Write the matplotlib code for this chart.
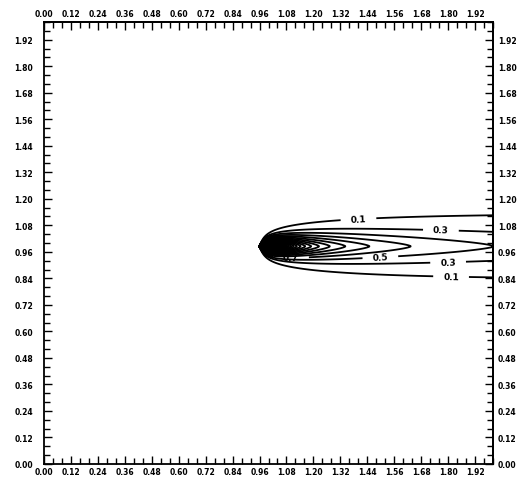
import numpy as np
import matplotlib
matplotlib.use("Agg")
import matplotlib.pyplot as plt

plt.rcParams['font.family'] = ['DejaVu Sans']
plt.rcParams['font.weight'] = 'bold'

# plume parameters
src_x = 0.96          # where the plume starts
src_y = 0.985         # centre line
peak_amp = 0.505      # centre value at unit distance
peak_decay = 0.73     # centre value falls as s**-peak_decay
near_amp = 0.012      # extra build-up close to the source (s**-2)
spread_amp = 0.102    # lateral width at unit distance
spread_pow = 0.4      # width grows as s**spread_pow
nose_len = 0.015      # the plume narrows to a point over this distance
shape_pow = 1.5       # cross-section exp(-(|dy|/w)**shape_pow)

levels = np.round(np.arange(0.1, 30.0, 0.2), 1)
# labelled levels and where their labels sit
label_spots = {
    0.1: [(1.40, 1.122), (1.813, 0.837)],
    0.3: [(1.768, 1.059), (1.80, 0.914)],
    0.5: [(1.497, 0.959)],
    0.7: [(1.10, 0.93)],
}

tick_vals = np.round(np.arange(0, 1.93, 0.12), 2)
tick_labels = ['%.2f' % v for v in tick_vals]
minor_vals = np.arange(0, 2.001, 0.04)

# field on a grid
x = np.linspace(0, 2, 1001)
y = np.linspace(0, 2, 1001)
X, Y = np.meshgrid(x, y)
s = np.clip(X - src_x, 1e-3, None)
peak = peak_amp * s ** -peak_decay + near_amp * s ** -2
width = spread_amp * s ** spread_pow * s / (s + nose_len)
C = peak * np.exp(-(np.abs(Y - src_y) / width) ** shape_pow)
C[X <= src_x] = 0.0

fig = plt.figure(figsize=(5.17, 4.85), dpi=100)
ax = fig.add_axes([44 / 517, 20 / 485, 449 / 517, 442 / 485])

plain = [lv for lv in levels if lv not in label_spots]
ax.contour(X, Y, C, levels=plain, colors='black', linewidths=1.3)
# the core above the top level is solid ink as well
ax.contourf(X, Y, C, levels=[levels[-1], C.max() + 1], colors='black')
for lev, spots in label_spots.items():
    cs = ax.contour(X, Y, C, levels=[lev], colors='black', linewidths=1.3)
    ax.clabel(cs, manual=spots, fmt='%.1f', fontsize=6.5,
              inline=True, inline_spacing=10)

ax.set_xlim(0, 2.0)
ax.set_ylim(0, 2.0)

ax.set_xticks(tick_vals)
ax.set_xticklabels(tick_labels)
ax.set_yticks(tick_vals)
ax.set_yticklabels(tick_labels)
ax.set_xticks(minor_vals, minor=True)
ax.set_yticks(minor_vals, minor=True)

ax.tick_params(which='both', direction='in', labelsize=5.5, width=1.0,
               top=False, right=False)
ax.tick_params(which='major', length=6)
ax.tick_params(which='minor', length=4)
ax.tick_params(axis='x', pad=2)
ax.tick_params(axis='y', pad=8)

# top and right axes carry their own labels
top = ax.secondary_xaxis('top')
top.set_xticks(tick_vals)
top.set_xticklabels(tick_labels)
top.set_xticks(minor_vals, minor=True)
top.tick_params(which='both', direction='in', labelsize=5.5, width=1.0, pad=3)
top.tick_params(which='major', length=6)
top.tick_params(which='minor', length=4)

right = ax.secondary_yaxis('right')
right.set_yticks(tick_vals)
right.set_yticklabels(tick_labels)
right.set_yticks(minor_vals, minor=True)
right.tick_params(which='both', direction='in', labelsize=5.5, width=1.0, pad=3.5)
right.tick_params(which='major', length=6)
right.tick_params(which='minor', length=4)

for sp in ax.spines.values():
    sp.set_linewidth(1.3)
top.spines['top'].set_linewidth(1.3)
right.spines['right'].set_linewidth(1.3)

fig.savefig('out.png', dpi=100)
